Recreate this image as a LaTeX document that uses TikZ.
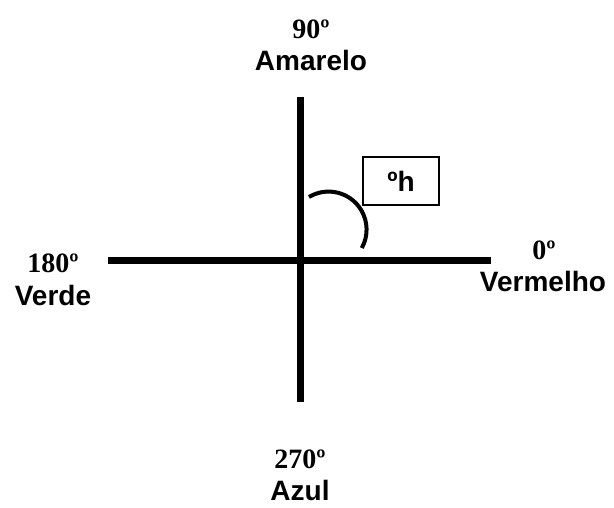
\documentclass[tikz,border=0pt]{standalone}
\usepackage{fontspec}
\setmainfont{Liberation Serif}
\newfontfamily\sansb{Liberation Sans}
\begin{document}
\begin{tikzpicture}[x=1pt,y=-1pt,
  axis/.style={line width=7pt},
  num/.style={font=\fontsize{28}{30}\selectfont\bfseries, anchor=base, inner sep=0pt},
  cname/.style={font=\sansb\fontsize{28}{30}\selectfont\bfseries, anchor=base, inner sep=0pt},
  hbox/.style={draw, line width=1.5pt, minimum width=76pt, minimum height=48pt, inner sep=0pt,
    font=\sansb\fontsize{28}{30}\selectfont\bfseries},
  arcline/.style={line width=4pt}
]
\useasboundingbox (0,0) rectangle (614,507);
\coordinate (atop) at (300,97);
\coordinate (abot) at (300,402);
\coordinate (aleft) at (108,260);
\coordinate (aright) at (491,260);
\draw[axis] (atop) -- (abot);
\draw[axis] (aleft) -- (aright);
\node[num] (n90) at (311,38) {90º};
\node[cname] (amarelo) at (311,70) {Amarelo};
\node[num] (n180) at (53,272) {180º};
\node[cname] (verde) at (53,305) {Verde};
\node[num] (n0) at (544,259) {0º};
\node[cname] (vermelho) at (543,291) {Vermelho};
\node[num] (n270) at (300,468) {270º};
\node[cname] (azul) at (300,500) {Azul};
\node[hbox] (hlabel) at (401,181) {ºh};
\coordinate (arcstart) at (309,197);
\draw[arcline] (arcstart) arc[start angle=-121, end angle=29, radius=38];
\end{tikzpicture}
\end{document}
